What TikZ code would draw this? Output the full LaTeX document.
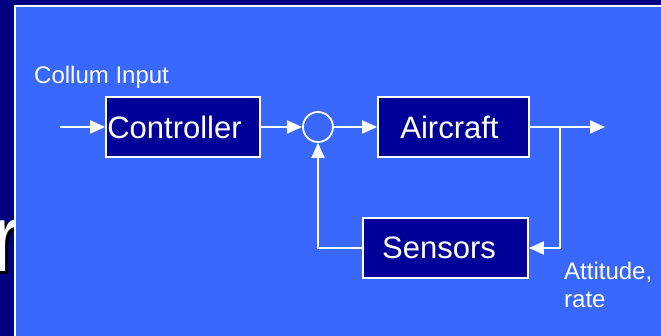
\documentclass[tikz,border=0pt]{standalone}
\usepackage{fontspec}
\setmainfont{Liberation Sans}
\usetikzlibrary{arrows.meta}
\definecolor{navy}{RGB}{0,0,128}
\definecolor{panelblue}{RGB}{56,104,255}
\definecolor{boxblue}{RGB}{0,0,153}
\tikzset{
  blk/.style={draw=white, line width=1.8pt, fill=boxblue, text=white,
    font=\fontsize{31}{31}\selectfont, minimum height=60pt, inner sep=0pt},
  lbl/.style={text=white, font=\fontsize{24}{28}\selectfont, inner sep=0pt},
  wire/.style={draw=white, line width=1.8pt},
  arr/.style={-{Triangle[length=15pt,width=13pt]}},
  bigletter/.style={anchor=base west, inner sep=0pt, font=\fontsize{96}{96}\selectfont}
}
\begin{document}
\begin{tikzpicture}[x=1pt,y=-1pt]
\useasboundingbox (0,0) rectangle (661,336);
\fill[navy] (0,0) rectangle (661,336);
% large title letter partly hidden behind the panel
\node[bigletter, text=black] (rshadow) at (-6.7,275) {r};
\node[bigletter, text=white] (rletter) at (-9.7,272) {r};
% panel
\filldraw[fill=panelblue, draw=white, line width=2pt] (15,6) rectangle (672,348);

% blocks
\node[blk, minimum width=154pt] (ctrl) at (183,127) {\hspace*{-17pt}Controller};
\node[draw=white, line width=1.8pt, circle, minimum size=30pt, inner sep=0pt] (sum) at (318,127) {};
\node[blk, minimum width=151pt] (air) at (453.5,127) {\hspace*{-8pt}Aircraft};
\node[blk, minimum width=165pt] (sens) at (445.5,248) {\hspace*{-13pt}Sensors};

% labels
\node[lbl, anchor=base west] (inlbl) at (34,84) {Collum Input};
\node[lbl, anchor=base west, align=left] (outlbl) at (564,308) {Attitude,\\rate};

% signal path
\coordinate (inp) at (60,127);
\coordinate (out) at (605,127);
\coordinate (br) at (560,127);
\draw[wire,arr] (inp) -- (ctrl.west);
\draw[wire,arr] (ctrl.east) -- (sum.west);
\draw[wire,arr] (sum.east) -- (air.west);
\draw[wire,arr] (air.east) -- (out);
\draw[wire,arr] (br) |- (sens.east);
\draw[wire,arr] (sens.west) -| (sum.south);
\end{tikzpicture}
\end{document}
